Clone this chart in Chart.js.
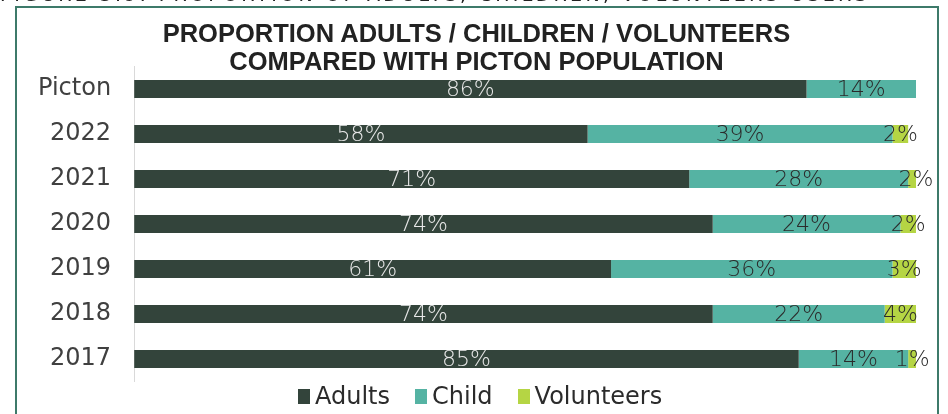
<!DOCTYPE html>
<html>
<head>
<meta charset="utf-8">
<script src="https://cdn.jsdelivr.net/npm/chart.js@4/dist/chart.umd.min.js"></script>
<style>
  html, body { margin: 0; padding: 0; background: #fff; }
  #wrap { position: relative; width: 948px; height: 414px; overflow: hidden; }
  #chart { position: absolute; left: 0; top: 0; }
  #caption {
    position: absolute; left: 0; top: -17px; white-space: nowrap;
    font: 19px "DejaVu Sans", sans-serif; letter-spacing: 3.3px; color: #222;
  }
  #title {
    position: absolute; left: 0; top: 19px; width: 953px; text-align: center;
    font: bold 25.5px "Liberation Sans", Arial, sans-serif; line-height: 28px; color: #222;
  }
  #legend {
    position: absolute; left: 298px; top: 382px; display: flex; align-items: center;
    font: 24px "DejaVu Sans", sans-serif; color: #2b2b2b; line-height: 28px;
  }
  #legend .item { display: flex; align-items: center; margin-right: 25px; }
  #legend .swatch { width: 12px; height: 15px; margin-right: 5px; }
  #frame {
    position: absolute; left: 15px; top: 6px; width: 924px; height: 430px;
    border: 2px solid #3d7a6a; box-sizing: border-box; pointer-events: none;
  }
</style>
</head>
<body>
<div id="wrap">
  <canvas id="chart" width="948" height="414"></canvas>
  <div id="caption">FIGURE 3.9: PROPORTION OF ADULTS, CHILDREN, VOLUNTEERS USERS</div>
  <div id="title">PROPORTION ADULTS / CHILDREN / VOLUNTEERS<br>COMPARED WITH PICTON POPULATION</div>
  <div id="legend"></div>
  <div id="frame"></div>
</div>
<script>
const categories = ["Picton", "2022", "2021", "2020", "2019", "2018", "2017"];
const adults     = [86, 58, 71, 74, 61, 74, 85];
const child      = [14, 39, 28, 24, 36, 22, 14];
const volunteers = [null, 2, 2, 2, 3, 4, 1];

const seriesNames  = ["Adults", "Child", "Volunteers"];
const seriesColors = ["#33443b", "#55b3a3", "#b5d544"];
const labelColors  = ["#e8e8e8", "#2b2b2b", "#2b2b2b"];

// percentage text drawn in the middle of each segment
const segmentLabels = {
  id: "segmentLabels",
  afterDatasetsDraw(chart) {
    const ctx = chart.ctx;
    ctx.save();
    ctx.font = "300 22px 'DejaVu Sans', sans-serif";
    ctx.textAlign = "center";
    ctx.textBaseline = "middle";
    chart.data.datasets.forEach((ds, i) => {
      const meta = chart.getDatasetMeta(i);
      ctx.fillStyle = labelColors[i];
      meta.data.forEach((bar, j) => {
        const v = ds.data[j];
        if (v === null || v === undefined) return;
        ctx.fillText(v + "%", (bar.x + bar.base) / 2, bar.y + 1);
      });
    });
    ctx.restore();
  }
};

const datasets = [adults, child, volunteers].map((vals, i) => ({
  label: seriesNames[i],
  data: vals,
  backgroundColor: seriesColors[i],
  borderWidth: 0,
  barPercentage: 0.4,
  categoryPercentage: 1
}));

const chart = new Chart(document.getElementById("chart"), {
  type: "bar",
  data: { labels: categories, datasets },
  options: {
    indexAxis: "y",
    responsive: false,
    animation: false,
    layout: { padding: { left: 23, right: 32, top: 66.5, bottom: 32.5 } },
    plugins: {
      legend: { display: false },
      tooltip: { enabled: false }
    },
    scales: {
      x: { stacked: true, min: 0, max: 100, display: false },
      y: {
        stacked: true,
        grid: { display: false },
        border: { display: true, color: "#d9d9d9", width: 1 },
        ticks: { color: "#404040", padding: 15, font: { family: "'DejaVu Sans', sans-serif", size: 24 } }
      }
    }
  },
  plugins: [segmentLabels]
});

// legend below the plot, built from the dataset names and colours
const legendBox = document.getElementById("legend");
chart.data.datasets.forEach(ds => {
  const item = document.createElement("span");
  item.className = "item";
  const sw = document.createElement("span");
  sw.className = "swatch";
  sw.style.background = ds.backgroundColor;
  item.appendChild(sw);
  item.appendChild(document.createTextNode(ds.label));
  legendBox.appendChild(item);
});
</script>
</body>
</html>
